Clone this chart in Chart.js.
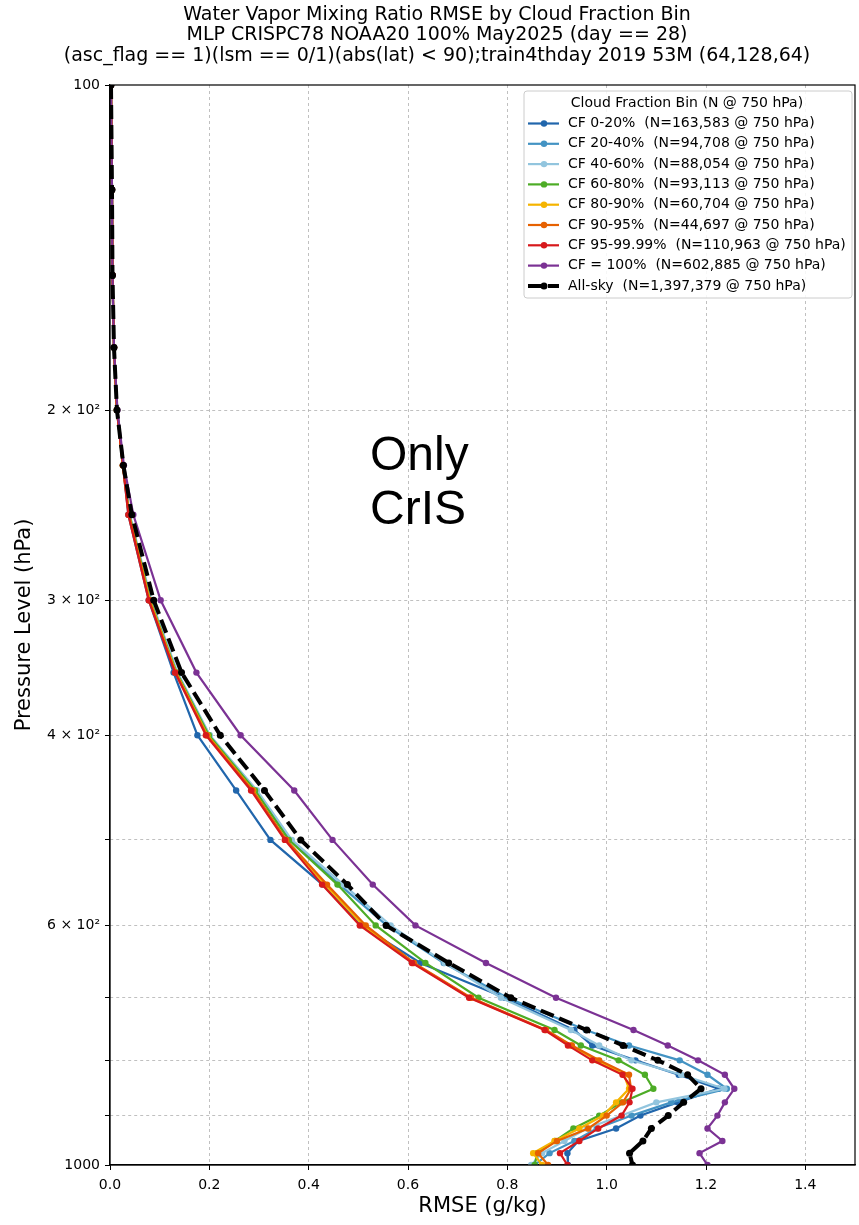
<!DOCTYPE html>
<html>
<head>
<meta charset="utf-8">
<script src="https://cdn.jsdelivr.net/npm/chart.js@4.4.1/dist/chart.umd.min.js"></script>
<style>
  html,body{margin:0;padding:0;background:#fff}
  #wrap{width:859px;height:1225px;position:relative}
</style>
</head>
<body>
<div id="wrap"><canvas id="rmseChart" width="859" height="1225"></canvas></div>
<script>
// pressure levels (hPa) and RMSE (g/kg) per cloud-fraction bin
const pressureLevels = [100,125,150,175,200,225,250,300,350,400,450,500,550,600,650,700,750,775,800,825,850,875,900,925,950,975,1000];
const cf0_20    = [0.002,0.004,0.005,0.008,0.014,0.026,0.037,0.078,0.128,0.176,0.254,0.323,0.428,0.505,0.625,0.795,0.935,0.971,1.058,1.145,1.225,1.143,1.068,1.019,0.943,0.921,0.922];
const cf20_40   = [0.002,0.004,0.005,0.008,0.014,0.026,0.039,0.082,0.135,0.200,0.294,0.362,0.462,0.557,0.672,0.800,0.958,1.045,1.147,1.203,1.242,1.130,1.050,0.980,0.935,0.885,0.855];
const cf40_60   = [0.002,0.004,0.005,0.008,0.014,0.026,0.040,0.083,0.136,0.201,0.296,0.366,0.470,0.565,0.674,0.787,0.928,0.985,1.050,1.150,1.237,1.100,1.030,0.960,0.915,0.870,0.848];
const cf60_80   = [0.002,0.004,0.005,0.008,0.014,0.026,0.039,0.081,0.134,0.199,0.292,0.360,0.458,0.535,0.635,0.742,0.895,0.948,1.024,1.077,1.094,1.030,0.985,0.933,0.896,0.860,0.855];
const cf80_90   = [0.002,0.004,0.005,0.008,0.014,0.026,0.038,0.080,0.133,0.196,0.288,0.353,0.433,0.510,0.610,0.725,0.877,0.928,0.980,1.035,1.045,1.019,0.993,0.945,0.895,0.852,0.870];
const cf90_95   = [0.002,0.004,0.005,0.008,0.014,0.026,0.038,0.079,0.132,0.195,0.287,0.355,0.437,0.515,0.612,0.727,0.878,0.930,0.985,1.045,1.049,1.033,1.000,0.963,0.900,0.862,0.882];
const cf95_9999 = [0.002,0.004,0.005,0.008,0.014,0.026,0.037,0.078,0.131,0.193,0.284,0.352,0.427,0.503,0.608,0.723,0.875,0.922,0.971,1.032,1.052,1.046,1.030,0.983,0.945,0.906,0.921];
const cf100     = [0.002,0.004,0.005,0.008,0.015,0.028,0.047,0.102,0.174,0.263,0.371,0.448,0.529,0.615,0.757,0.898,1.054,1.123,1.184,1.238,1.257,1.238,1.223,1.203,1.233,1.187,1.203];
const allSky    = [0.002,0.004,0.005,0.008,0.014,0.027,0.044,0.088,0.144,0.222,0.311,0.384,0.478,0.556,0.682,0.807,0.960,1.033,1.103,1.163,1.190,1.155,1.124,1.090,1.073,1.046,1.052];

const seriesLabels = [
  'CF 0-20%  (N=163,583 @ 750 hPa)',
  'CF 20-40%  (N=94,708 @ 750 hPa)',
  'CF 40-60%  (N=88,054 @ 750 hPa)',
  'CF 60-80%  (N=93,113 @ 750 hPa)',
  'CF 80-90%  (N=60,704 @ 750 hPa)',
  'CF 90-95%  (N=44,697 @ 750 hPa)',
  'CF 95-99.99%  (N=110,963 @ 750 hPa)',
  'CF = 100%  (N=602,885 @ 750 hPa)',
  'All-sky  (N=1,397,379 @ 750 hPa)'
];
const xTicks = [0, 0.2, 0.4, 0.6, 0.8, 1.0, 1.2, 1.4];
const yTicks = [100,200,300,400,500,600,700,800,900,1000];
const yTickLabels = {100:'100', 200:'2 × 10²', 300:'3 × 10²', 400:'4 × 10²', 600:'6 × 10²', 1000:'1000'};

const seriesValues = [cf0_20, cf20_40, cf40_60, cf60_80, cf80_90, cf90_95, cf95_9999, cf100, allSky];
const colors = ['#2166ac','#4393c3','#92c5de','#4dac26','#f5b400','#e66101','#d7191c','#7b3294','#000000'];

const FONT = "'DejaVu Sans', sans-serif";

const datasets = seriesValues.map((vals, i) => {
  const sky = i === seriesValues.length - 1;
  return {
    label: seriesLabels[i],
    data: pressureLevels.map((p, k) => ({ x: vals[k], y: p })),
    borderColor: colors[i],
    backgroundColor: colors[i],
    borderWidth: sky ? 4 : 2.2,
    borderDash: sky ? [14, 6] : [],
    pointRadius: sky ? 3.5 : 3.2,
    pointBorderWidth: 0,
    pointBackgroundColor: colors[i],
    showLine: true,
    tension: 0,
    order: seriesValues.length - i
  };
});

const extras = {
  id: 'extras',
  afterDraw(chart) {
    const { ctx, chartArea: a } = chart;
    ctx.save();
    // frame
    ctx.strokeStyle = '#000'; ctx.lineWidth = 1.2;
    ctx.strokeRect(a.left, a.top, a.right - a.left, a.bottom - a.top);

    // titles
    ctx.fillStyle = '#000'; ctx.textAlign = 'center'; ctx.textBaseline = 'middle';
    ctx.font = `19px ${FONT}`;
    ctx.fillText('Water Vapor Mixing Ratio RMSE by Cloud Fraction Bin', 437, 15);
    ctx.fillText('MLP CRISPC78 NOAA20 100% May2025 (day == 28)', 437, 35);
    ctx.fillText('(asc_flag == 1)(lsm == 0/1)(abs(lat) < 90);train4thday 2019 53M (64,128,64)', 437, 56);

    // axis titles
    ctx.font = `21px ${FONT}`;
    ctx.fillText('RMSE (g/kg)', (a.left + a.right) / 2, 1207);
    ctx.save();
    ctx.translate(25, (a.top + a.bottom) / 2);
    ctx.rotate(-Math.PI / 2);
    ctx.fillText('Pressure Level (hPa)', 0, 0);
    ctx.restore();

    // annotation
    ctx.textAlign = 'left'; ctx.textBaseline = 'alphabetic';
    ctx.font = `48px 'Liberation Sans', Arial, sans-serif`;
    ctx.fillText('Only', 370, 470);
    ctx.fillText('CrIS', 370, 524);

    // legend
    const lx = 524, ly = 91, lw = 328, lh = 207;
    ctx.fillStyle = 'rgba(255,255,255,0.85)';
    ctx.strokeStyle = '#cccccc'; ctx.lineWidth = 1;
    ctx.beginPath();
    ctx.roundRect(lx, ly, lw, lh, 3);
    ctx.fill(); ctx.stroke();

    ctx.fillStyle = '#000'; ctx.textAlign = 'center'; ctx.textBaseline = 'middle';
    ctx.font = `14px ${FONT}`;
    ctx.fillText('Cloud Fraction Bin (N @ 750 hPa)', 687, 103);

    ctx.textAlign = 'left';
    chart.data.datasets.forEach((ds, i) => {
      const y = 123.5 + i * 20.3;
      ctx.save();
      ctx.strokeStyle = ds.borderColor; ctx.lineWidth = ds.borderWidth;
      ctx.setLineDash(ds.borderDash);
      ctx.beginPath(); ctx.moveTo(528, y); ctx.lineTo(559, y); ctx.stroke();
      ctx.setLineDash([]);
      ctx.fillStyle = ds.pointBackgroundColor;
      ctx.beginPath(); ctx.arc(544, y, ds.pointRadius, 0, Math.PI * 2); ctx.fill();
      ctx.restore();
      ctx.fillStyle = '#000';
      ctx.fillText(ds.label, 568, y);
    });
    ctx.restore();
  }
};

new Chart(document.getElementById('rmseChart'), {
  type: 'scatter',
  data: { datasets },
  options: {
    responsive: false,
    animation: false,
    devicePixelRatio: 1,
    layout: { padding: { top: 85, right: 1, left: 0, bottom: 0 } },
    plugins: { legend: { display: false }, title: { display: false }, tooltip: { enabled: false } },
    scales: {
      x: {
        type: 'linear', min: 0, max: 1.5,
        afterBuildTicks: s => { s.ticks = xTicks.map(v => ({ value: v })); },
        afterFit: s => { s.height = 60; },
        ticks: { callback: v => Number(v).toFixed(1), font: { size: 14, family: FONT }, color: '#000', padding: 7, maxRotation: 0, autoSkip: false },
        grid: { color: c => c.tick && c.tick.value === 0 ? 'rgba(0,0,0,0)' : '#b0b0b0', lineWidth: 0.8, tickColor: '#000', tickLength: 5, tickWidth: 1 },
        border: { color: '#000', width: 1.2, dash: [3, 3] }
      },
      y: {
        type: 'logarithmic', reverse: true, min: 100, max: 1000,
        afterBuildTicks: s => { s.ticks = yTicks.map(v => ({ value: v })); },
        afterFit: s => { s.width = 110; },
        ticks: { callback: v => yTickLabels[v] || '', font: { size: 14, family: FONT }, color: '#000', padding: 5, autoSkip: false },
        grid: { color: c => c.tick && (c.tick.value === 100 || c.tick.value === 1000) ? 'rgba(0,0,0,0)' : '#b0b0b0', lineWidth: 0.8, tickColor: '#000', tickLength: 5, tickWidth: 1 },
        border: { color: '#000', width: 1.2, dash: [3, 3] }
      }
    }
  },
  plugins: [extras]
});
</script>
</body>
</html>
